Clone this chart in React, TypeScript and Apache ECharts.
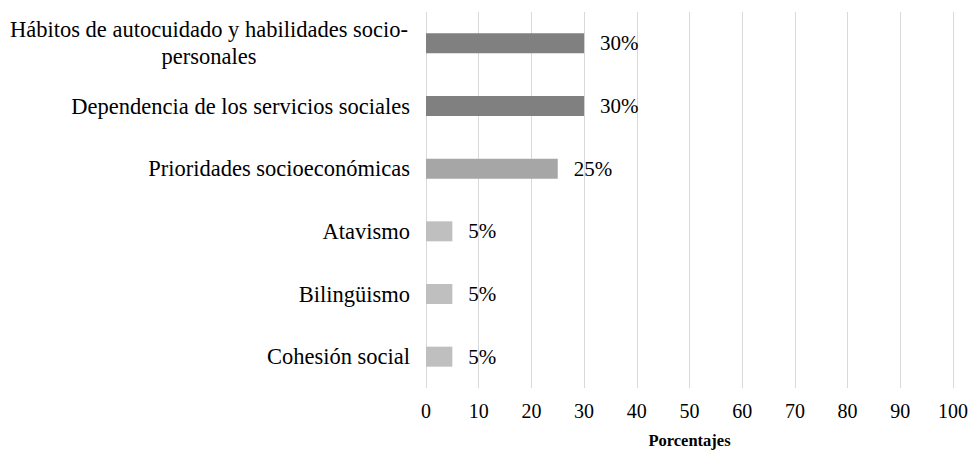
import React, { useEffect, useRef } from "react";
import * as echarts from "echarts";

const categories = [
  "Hábitos de autocuidado y habilidades socio-\npersonales",
  "Dependencia de los servicios sociales",
  "Prioridades socioeconómicas",
  "Atavismo",
  "Bilingüismo",
  "Cohesión social",
];
const values = [30, 30, 25, 5, 5, 5];
const barColors = ["#808080", "#808080", "#a6a6a6", "#bfbfbf", "#bfbfbf", "#bfbfbf"];
const xAxisName = "Porcentajes";

export default function App() {
  const ref = useRef<HTMLDivElement>(null);
  useEffect(() => {
    if (!ref.current) return;
    const chart = echarts.init(ref.current, undefined, { renderer: "svg" });
    const font = "Liberation Serif";
    chart.setOption({
      animation: false,
      backgroundColor: "#ffffff",
      textStyle: { fontFamily: font },
      grid: { left: 426, right: 17, top: 12, bottom: 67, containLabel: false, outerBoundsMode: "none" },
      xAxis: {
        type: "value",
        min: 0,
        max: 100,
        interval: 10,
        name: xAxisName,
        nameLocation: "middle",
        nameGap: 44,
        nameTextStyle: { fontFamily: font, fontSize: 16.5, fontWeight: "bold", color: "#000" },
        axisLine: { show: false },
        axisTick: { show: false },
        axisLabel: { fontFamily: font, fontSize: 20, color: "#000", margin: 13 },
        splitLine: { show: true, lineStyle: { color: "#d9d9d9", width: 1 } },
      },
      yAxis: {
        type: "category",
        inverse: true,
        data: categories,
        axisLine: { show: false },
        axisTick: { show: false },
        axisLabel: {
          fontFamily: font,
          fontSize: 22.5,
          color: "#000",
          margin: 16,
          lineHeight: 27,
          formatter: (v: string) =>
            v.includes("\n") ? v.split("\n").map((l) => `{c|${l}}`).join("\n") : `{r|${v}}`,
          rich: {
            c: { width: 402, align: "center", fontFamily: font, fontSize: 22.5, color: "#000", lineHeight: 27 },
            r: { fontFamily: font, fontSize: 22.5, color: "#000", lineHeight: 27 },
          },
        },
      },
      series: [
        {
          type: "bar",
          barWidth: 20,
          data: values.map((v, i) => ({ value: v, itemStyle: { color: barColors[i] } })),
          label: {
            show: true,
            position: "right",
            distance: 16,
            formatter: "{c}%",
            fontFamily: font,
            fontSize: 21,
            color: "#000",
          },
        },
      ],
    });
    return () => chart.dispose();
  }, []);
  return (
    <div
      ref={ref}
      style={{ position: "absolute", left: 0, top: 0, width: 970, height: 455 }}
    />
  );
}
